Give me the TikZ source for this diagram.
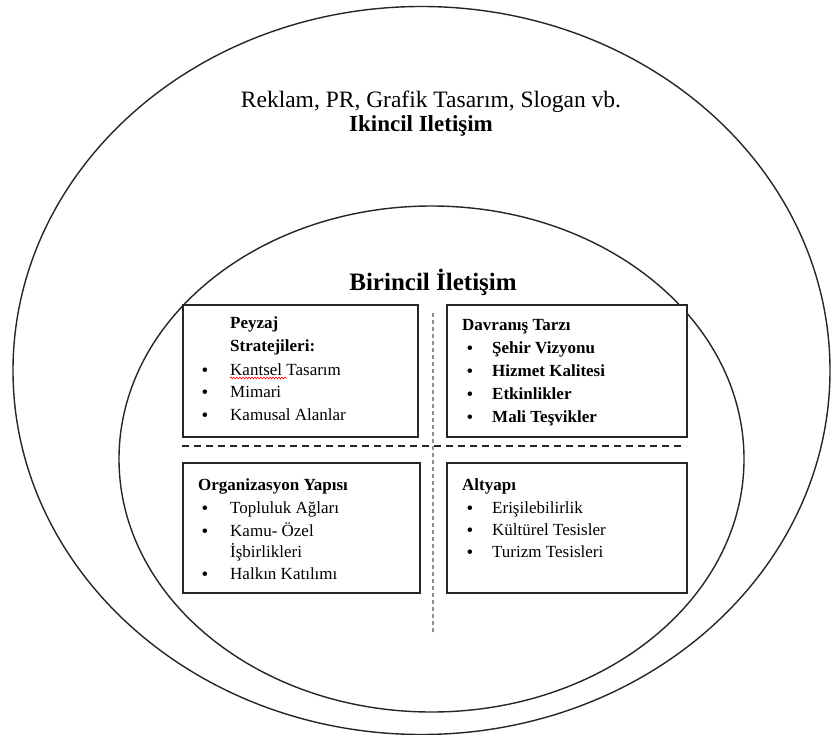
\documentclass[tikz,border=0pt]{standalone}
\usepackage{fontspec}
\setmainfont{Liberation Serif}
\usetikzlibrary{shapes.geometric,decorations.pathmorphing}
\begin{document}
\begin{tikzpicture}[x=1pt,y=-1pt,
  ring/.style={ellipse,draw=black!85,line width=1.4pt,inner sep=0pt,outer sep=0pt},
  panel/.style={draw=black!85,line width=1.3pt,rectangle,inner sep=0pt},
  txt/.style={font=\fontsize{17}{19}\selectfont,inner sep=0pt,anchor=base west},
  btxt/.style={txt,font=\fontsize{17}{19}\selectfont\bfseries},
  bul/.style={font=\fontsize{19}{21}\selectfont,inner sep=0pt,anchor=base}]
\useasboundingbox (0,0) rectangle (832,735);
\fill[white] (0,0) rectangle (832,735);

% the two rings
\node[ring,minimum width=817,minimum height=728] (outer) at (421.5,370.5) {};
\node[ring,minimum width=625,minimum height=506] (inner) at (431.5,459) {};

% titles
\node[font=\fontsize{23.5}{26}\selectfont,inner sep=0pt,anchor=base] (sec) at (431,108) {Reklam, PR, Grafik Tasarım, Slogan vb.};
\node[font=\fontsize{23}{26}\selectfont\bfseries,inner sep=0pt,anchor=base] (secb) at (421,132) {Ikincil Iletişim};
\node[font=\fontsize{25}{28}\selectfont\bfseries,inner sep=0pt,anchor=base] (prim) at (433,290) {Birincil İletişim};

% separators
\coordinate (vtop) at (433,313);
\coordinate (vbot) at (433,635);
\coordinate (hl) at (182,446);
\coordinate (hr) at (686,446);
\draw[black!45,line width=2.6pt,dash pattern=on 4pt off 3pt] (vtop) -- (vbot);
\draw[black!85,line width=1.2pt,dash pattern=on 7pt off 5pt] (hl) -- (hr);

% panels
\node[panel,fill=white,minimum width=235,minimum height=132] (tl) at (300.5,371) {};
\node[panel,fill=white,minimum width=240,minimum height=132] (tr) at (567,371) {};
\node[panel,fill=white,minimum width=237,minimum height=130] (bl) at (301.5,528) {};
\node[panel,fill=white,minimum width=240,minimum height=130] (br) at (567,528) {};

% top left panel
\node[btxt] (t1) at (230,328) {Peyzaj};
\node[btxt] (t2) at (230,351) {Stratejileri:};
\node[bul] (tb1) at (205,376) {\textbullet};
\node[txt] (ti1) at (230,375) {Kantsel Tasarım};
\node[bul] (tb2) at (205,398) {\textbullet};
\node[txt] (ti2) at (230,397) {Mimari};
\node[bul] (tb3) at (205,421) {\textbullet};
\node[txt] (ti3) at (230,420) {Kamusal Alanlar};
\draw[red,line width=0.6pt,decorate,decoration={snake,amplitude=0.9pt,segment length=3pt}]
  (ti1.base west) ++(0,3) -- ++(57,0);

% top right panel
\node[btxt] (r0) at (462,330) {Davranış Tarzı};
\node[bul] (rb1) at (470,354) {\textbullet};
\node[btxt] (ri1) at (492,353) {Şehir Vizyonu};
\node[bul] (rb2) at (470,377) {\textbullet};
\node[btxt] (ri2) at (492,376) {Hizmet Kalitesi};
\node[bul] (rb3) at (470,400) {\textbullet};
\node[btxt] (ri3) at (492,399) {Etkinlikler};
\node[bul] (rb4) at (470,423) {\textbullet};
\node[btxt] (ri4) at (492,422) {Mali Teşvikler};

% bottom left panel
\node[btxt] (o0) at (198,490) {Organizasyon Yapısı};
\node[bul] (ob1) at (205,514) {\textbullet};
\node[txt] (oi1) at (230,513) {Topluluk Ağları};
\node[bul] (ob2) at (205,537) {\textbullet};
\node[txt] (oi2) at (230,536) {Kamu- Özel};
\node[txt] (oi2b) at (230,557) {İşbirlikleri};
\node[bul] (ob3) at (205,580) {\textbullet};
\node[txt] (oi3) at (230,579) {Halkın Katılımı};

% bottom right panel
\node[btxt] (a0) at (462,490) {Altyapı};
\node[bul] (ab1) at (470,514) {\textbullet};
\node[txt] (ai1) at (492,513) {Erişilebilirlik};
\node[bul] (ab2) at (470,536) {\textbullet};
\node[txt] (ai2) at (492,535) {Kültürel Tesisler};
\node[bul] (ab3) at (470,558) {\textbullet};
\node[txt] (ai3) at (492,557) {Turizm Tesisleri};
\end{tikzpicture}
\end{document}
